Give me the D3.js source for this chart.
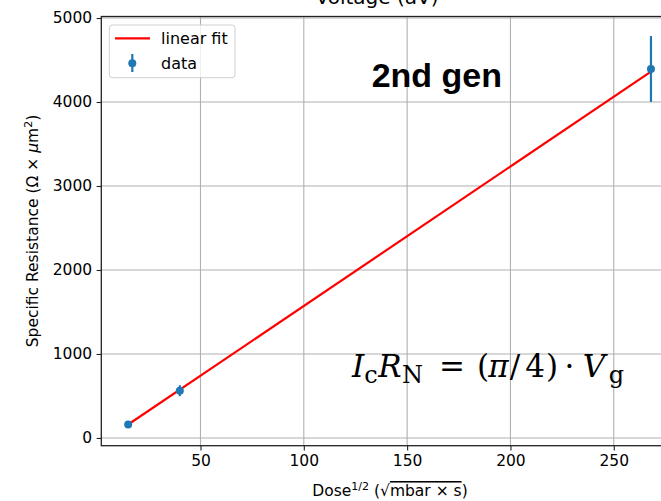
<!DOCTYPE html>
<html>
<head>
<meta charset="utf-8">
<script src="https://cdn.jsdelivr.net/npm/d3@7"></script>
<style>
  body { margin: 0; background: #fff; }
  svg { display: block; font-family: "DejaVu Sans", sans-serif; }
</style>
</head>
<body>
<div id="chart"></div>
<script>
'use strict';

// values
const doseX = [15, 40, 268];
const resistance = [160, 563, 4393];
const resistanceErr = [10, 65, 392];
const fitX = [15, 268];
const fitY = [160, 4362];
const xTicks = [50, 100, 150, 200, 250];
const yTicks = [0, 1000, 2000, 3000, 4000, 5000];

const width = 661, height = 501;
// plot box (right spine falls just outside the picture)
const plotLeft = 101.3, plotRight = 677, plotTop = 16.5, plotBottom = 445.7;
const fontSize = 15.5;

let svg = d3.select("#chart")
    .append("svg")
    .attr("width", width)
    .attr("height", height);

let x = d3.scaleLinear().domain([2.0, 280.6]).range([plotLeft, plotRight]);
let y = d3.scaleLinear().domain([-92, 5018]).range([plotBottom, plotTop]);

// grid
svg.append("g").selectAll("line")
    .data(xTicks)
    .enter().append("line")
    .attr("x1", d => x(d)).attr("x2", d => x(d))
    .attr("y1", plotTop).attr("y2", plotBottom)
    .attr("stroke", "#b0b0b0").attr("stroke-width", 1.1);
svg.append("g").selectAll("line")
    .data(yTicks)
    .enter().append("line")
    .attr("x1", plotLeft).attr("x2", plotRight)
    .attr("y1", d => y(d)).attr("y2", d => y(d))
    .attr("stroke", "#b0b0b0").attr("stroke-width", 1.1);

// axes
let xAxis = svg.append("g")
    .attr("transform", "translate(0," + plotBottom + ")")
    .call(d3.axisBottom(x).tickValues(xTicks).tickFormat(d3.format("d"))
        .tickSize(4.7).tickPadding(4.5).tickSizeOuter(0));
let yAxis = svg.append("g")
    .attr("transform", "translate(" + plotLeft + ",0)")
    .call(d3.axisLeft(y).tickValues(yTicks).tickFormat(d3.format("d"))
        .tickSize(4.7).tickPadding(4.5).tickSizeOuter(0));
[xAxis, yAxis].forEach(a => {
    a.select(".domain").remove();
    a.selectAll(".tick line").attr("stroke", "#222").attr("stroke-width", 1.1);
    a.selectAll(".tick text")
        .attr("fill", "#000")
        .style("font-family", "DejaVu Sans")
        .style("font-size", fontSize + "px");
});

// spines
svg.append("rect")
    .attr("x", plotLeft).attr("y", plotTop)
    .attr("width", plotRight - plotLeft).attr("height", plotBottom - plotTop)
    .attr("fill", "none").attr("stroke", "#222").attr("stroke-width", 1.3);

// linear fit
let line = d3.line()
    .x(d => x(d[0]))
    .y(d => y(d[1]));
svg.append("path")
    .datum(d3.zip(fitX, fitY))
    .attr("d", line)
    .attr("fill", "none")
    .attr("stroke", "#ff0000")
    .attr("stroke-width", 2.2);

// data with error bars
let points = d3.zip(doseX, resistance, resistanceErr);
svg.append("g").selectAll("line")
    .data(points)
    .enter().append("line")
    .attr("x1", d => x(d[0])).attr("x2", d => x(d[0]))
    .attr("y1", d => y(d[1] - d[2])).attr("y2", d => y(d[1] + d[2]))
    .attr("stroke", "#1f77b4").attr("stroke-width", 2.2);
svg.append("g").selectAll("circle")
    .data(points)
    .enter().append("circle")
    .attr("cx", d => x(d[0]))
    .attr("cy", d => y(d[1]))
    .attr("r", 4)
    .attr("fill", "#1f77b4");

// legend
let legend = svg.append("g");
legend.append("rect")
    .attr("x", 109.3).attr("y", 25)
    .attr("width", 125.7).attr("height", 52.7)
    .attr("rx", 3)
    .attr("fill", "#fff").attr("fill-opacity", 0.8)
    .attr("stroke", "#d0d0d0").attr("stroke-width", 1);
legend.append("line")
    .attr("x1", 115).attr("x2", 150).attr("y1", 38.3).attr("y2", 38.3)
    .attr("stroke", "#ff0000").attr("stroke-width", 2.2);
legend.append("line")
    .attr("x1", 132.3).attr("x2", 132.3).attr("y1", 54).attr("y2", 72)
    .attr("stroke", "#1f77b4").attr("stroke-width", 2.2);
legend.append("circle")
    .attr("cx", 132.3).attr("cy", 63.3).attr("r", 4)
    .attr("fill", "#1f77b4");
legend.selectAll("text")
    .data(["linear fit", "data"])
    .enter().append("text")
    .attr("x", 161)
    .attr("y", (d, i) => 38.3 + i * 25)
    .attr("dy", "0.35em")
    .style("font-size", (fontSize + 0.5) + "px")
    .text(d => d);

// title (cut off at top edge, as in the original)
svg.append("text")
    .attr("x", 377).attr("y", 4)
    .attr("text-anchor", "middle")
    .style("font-size", "20px")
    .text("Voltage (aV)");

// x label
let xLabel = svg.append("text")
    .attr("x", 390).attr("y", 496)
    .attr("text-anchor", "middle")
    .style("font-size", fontSize + "px");
xLabel.append("tspan").text("Dose");
xLabel.append("tspan").attr("dy", -6).style("font-size", "11px").text("1/2");
xLabel.append("tspan").attr("dy", 6).text(" (√");
xLabel.append("tspan").attr("text-decoration", "overline").text("mbar × s");
xLabel.append("tspan").text(")");

// y label
let yLabel = svg.append("text")
    .attr("transform", "translate(38,231) rotate(-90)")
    .attr("text-anchor", "middle")
    .style("font-size", fontSize + "px");
yLabel.append("tspan").text("Specific Resistance (Ω × ");
yLabel.append("tspan").style("font-style", "italic").text("μ");
yLabel.append("tspan").text("m");
yLabel.append("tspan").attr("dy", -6).style("font-size", "11px").text("2");
yLabel.append("tspan").attr("dy", 6).text(")");

// annotations
svg.append("text")
    .attr("x", 371.7).attr("y", 86.7)
    .style("font-family", "'Liberation Sans', Arial, sans-serif")
    .style("font-weight", "bold")
    .style("font-size", "34px")
    .text("2nd gen");

// formula glyphs: [text, centre x, italic, subscript]
const formulaParts = [
    ["I", 358, true, false], ["c", 371, false, true],
    ["R", 390, true, false], ["N", 412.5, false, true],
    ["=", 452, false, false], ["(", 483, false, false],
    ["π", 498.5, true, false], ["/", 515, false, false],
    ["4", 535, false, false], [")", 552, false, false],
    ["·", 569.5, false, false], ["V", 594, true, false],
    ["g", 616.5, false, true]
];
let formula = svg.append("text")
    .attr("text-anchor", "middle")
    .style("font-family", "'DejaVu Serif', serif")
    .style("font-size", "31px");
formula.selectAll("tspan")
    .data(formulaParts)
    .enter().append("tspan")
    .attr("x", d => d[1])
    .attr("y", d => d[3] ? 383 : 377)
    .style("font-style", d => d[2] ? "italic" : "normal")
    .style("font-size", d => d[3] ? "24px" : null)
    .text(d => d[0]);
</script>
</body>
</html>
